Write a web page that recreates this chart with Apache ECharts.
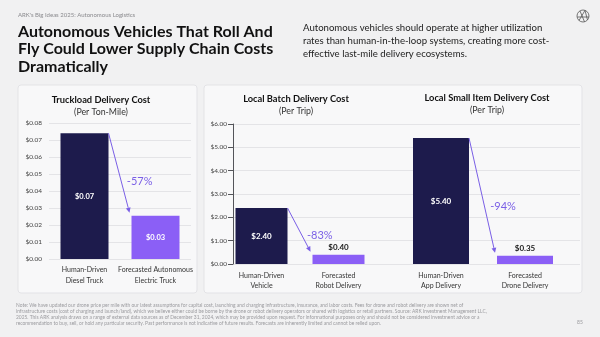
<!DOCTYPE html>
<html>
<head>
<meta charset="utf-8">
<script src="https://cdn.jsdelivr.net/npm/echarts@6/dist/echarts.min.js"></script>
<style>
  html, body { margin: 0; padding: 0; background: #f1f1f2; }
  #chart { width: 600px; height: 337px; }
</style>
</head>
<body>
<div id="chart"></div>
<script>
// Truckload delivery cost, dollars per ton-mile
const truckCategories = ['Human-Driven\nDiesel Truck', 'Forecasted Autonomous\nElectric Truck'];
const truckCost = [0.074, 0.0255];
const truckAxis = { min: 0, max: 0.08, interval: 0.01 };

// Local batch delivery cost, dollars per trip
const batchCategories = ['Human-Driven\nVehicle', 'Forecasted\nRobot Delivery'];
const batchCost = [2.40, 0.40];

// Local small item delivery cost, dollars per trip
const smallCategories = ['Human-Driven\nApp Delivery', 'Forecasted\nDrone Delivery'];
const smallCost = [5.40, 0.35];
const tripAxis = { min: 0, max: 6, interval: 1 };

const reductions = ['-57%', '-83%', '-94%'];

const NAVY = '#1d1b4c';
const PURPLE = '#8b5ff6';
const ARROW = '#7a5fe6';
const FONT = 'Lato, "Open Sans", sans-serif';

const footnote = [
  'Note: We have updated our drone price per mile with our latest assumptions for capital cost, launching and charging infrastructure, insurance, and labor costs. Fees for drone and robot delivery are shown net of',
  'infrastructure costs (cost of charging and launch/land), which we believe either could be borne by the drone or robot delivery operators or shared with logistics or retail partners. Source: ARK Investment Management LLC,',
  '2025. This ARK analysis draws on a range of external data sources as of December 31, 2024, which may be provided upon request. For informational purposes only and should not be considered investment advice or a',
  'recommendation to buy, sell, or hold any particular security. Past performance is not indicative of future results. Forecasts are inherently limited and cannot be relied upon.'
].join('\n');

const chart = echarts.init(document.getElementById('chart'), null, { renderer: 'canvas' });

function barData(values, colors, insideFlags) {
  return values.map((v, i) => ({
    value: v,
    itemStyle: { color: colors[i] },
    label: insideFlags[i]
      ? { show: true, position: 'inside', color: '#ffffff' }
      : { show: true, position: 'top', color: '#1a1a1a', distance: 3 }
  }));
}

function moneyLabel(digits) {
  return p => '$' + Number(p.value).toFixed(digits);
}

// Arrow from the top-right of the first bar to the top-left of the second bar
function arrowRenderer(values, barW, text) {
  return function (params, api) {
    const p0 = api.coord([0, values[0]]);
    const p1 = api.coord([1, values[1]]);
    const x0 = p0[0] + barW / 2, y0 = p0[1];
    const x1 = p1[0] - barW / 2 - 2, y1 = p1[1] - 3;
    const dx = x1 - x0, dy = y1 - y0;
    const len = Math.sqrt(dx * dx + dy * dy);
    const ux = dx / len, uy = dy / len;
    const nx = -uy, ny = ux;
    const hl = 5, hw = 2.4;
    const bx = x1 - ux * hl, by = y1 - uy * hl;
    const t = 0.58;
    return {
      type: 'group',
      children: [
        { type: 'line', shape: { x1: x0, y1: y0, x2: bx, y2: by },
          style: { stroke: ARROW, lineWidth: 1 } },
        { type: 'polygon', shape: { points: [[x1, y1], [bx + nx * hw, by + ny * hw], [bx - nx * hw, by - ny * hw]] },
          style: { fill: ARROW } },
        { type: 'text', x: x0 + dx * t + 19, y: y0 + dy * t + 2,
          style: { text: text, fill: ARROW, font: '400 11px ' + FONT, align: 'center', verticalAlign: 'middle' } }
      ]
    };
  };
}

const catAxisLabel = {
  color: '#333333', fontSize: 7, fontFamily: FONT, lineHeight: 10, margin: 7, interval: 0
};

const option = {
  animation: false,
  textStyle: { fontFamily: FONT },
  graphic: [
    // panels
    { type: 'rect', shape: { x: 18, y: 85, width: 179, height: 208, r: 3 }, z: -10,
      style: { fill: '#f8f8f9', stroke: '#e3e3e6', lineWidth: 1 } },
    { type: 'rect', shape: { x: 204, y: 85, width: 378, height: 208, r: 3 }, z: -10,
      style: { fill: '#f8f8f9', stroke: '#e3e3e6', lineWidth: 1 } },
    // header
    { type: 'text', x: 18, y: 12, style: { text: "ARK's Big Ideas 2025: Autonomous Logistics", fill: '#8a8a8e', font: '400 6px ' + FONT } },
    { type: 'text', x: 18, y: 23, style: { text: 'Autonomous Vehicles That Roll And\nFly Could Lower Supply Chain Costs\nDramatically',
        fill: '#111111', font: '700 16px ' + FONT, lineHeight: 17.5 } },
    { type: 'text', x: 303, y: 22, style: { text: 'Autonomous vehicles should operate at higher utilization\nrates than human-in-the-loop systems, creating more cost-\neffective last-mile delivery ecosystems.',
        fill: '#222222', font: '400 9.6px ' + FONT, lineHeight: 12.8 } },
    // logo mark
    { type: 'group', x: 583, y: 16, children: [
      { type: 'circle', shape: { cx: 0, cy: 0, r: 6 }, style: { fill: 'none', stroke: '#555', lineWidth: 0.8 } },
      { type: 'line', shape: { x1: -4, y1: 4.5, x2: 2, y2: -5.6 }, style: { stroke: '#555', lineWidth: 0.8 } },
      { type: 'line', shape: { x1: 2, y1: -5.6, x2: 4.5, y2: 4 }, style: { stroke: '#555', lineWidth: 0.8 } },
      { type: 'line', shape: { x1: -5.6, y1: 1, x2: 5.8, y2: 1 }, style: { stroke: '#555', lineWidth: 0.8 } },
      { type: 'line', shape: { x1: -3, y1: -5, x2: 1.5, y2: 5.8 }, style: { stroke: '#555', lineWidth: 0.8 } }
    ] },
    // chart titles
    { type: 'text', x: 101, y: 100, style: { text: 'Truckload Delivery Cost', fill: '#111', font: '700 9.3px ' + FONT, align: 'center', verticalAlign: 'middle' } },
    { type: 'text', x: 101, y: 112, style: { text: '(Per Ton-Mile)', fill: '#333', font: '400 8.8px ' + FONT, align: 'center', verticalAlign: 'middle' } },
    { type: 'text', x: 296, y: 99, style: { text: 'Local Batch Delivery Cost', fill: '#111', font: '700 9.3px ' + FONT, align: 'center', verticalAlign: 'middle' } },
    { type: 'text', x: 296, y: 111, style: { text: '(Per Trip)', fill: '#333', font: '400 8.8px ' + FONT, align: 'center', verticalAlign: 'middle' } },
    { type: 'text', x: 487, y: 98, style: { text: 'Local Small Item Delivery Cost', fill: '#111', font: '700 9.3px ' + FONT, align: 'center', verticalAlign: 'middle' } },
    { type: 'text', x: 487, y: 110, style: { text: '(Per Trip)', fill: '#333', font: '400 8.8px ' + FONT, align: 'center', verticalAlign: 'middle' } },
    // footnote and page number
    { type: 'text', x: 16, y: 302, style: { text: footnote, fill: '#9a9a9e', font: '400 4.9px ' + FONT, lineHeight: 6 } },
    { type: 'text', x: 577, y: 320, style: { text: '85', fill: '#9a9a9e', font: '400 5px ' + FONT } }
  ],
  grid: [
    { left: 49, width: 142, top: 123, height: 136 },
    { left: 233, width: 347, top: 124, height: 140 },
    { left: 223, width: 154, top: 124, height: 140 },
    { left: 399, width: 168, top: 124, height: 140 }
  ],
  xAxis: [
    { gridIndex: 0, type: 'category', data: truckCategories,
      axisLine: { show: false }, axisTick: { show: false }, axisLabel: Object.assign({}, catAxisLabel, { margin: 5, lineHeight: 11 }) },
    { gridIndex: 1, type: 'value', show: false, min: 0, max: 1, splitLine: { show: false } },
    { gridIndex: 2, type: 'category', data: batchCategories,
      axisLine: { show: false }, axisTick: { show: false }, axisLabel: catAxisLabel },
    { gridIndex: 3, type: 'category', data: smallCategories,
      axisLine: { show: false }, axisTick: { show: false }, axisLabel: catAxisLabel }
  ],
  yAxis: [
    { gridIndex: 0, type: 'value', min: truckAxis.min, max: truckAxis.max, interval: truckAxis.interval,
      axisLabel: { formatter: v => '$' + v.toFixed(2), color: '#444', fontSize: 6.5, fontFamily: FONT, margin: 7 },
      splitLine: { lineStyle: { color: '#e4e4e7', width: 1 } } },
    { gridIndex: 1, type: 'value', min: tripAxis.min, max: tripAxis.max, interval: tripAxis.interval,
      axisLabel: { formatter: v => '$' + v.toFixed(2), color: '#444', fontSize: 6.5, fontFamily: FONT, margin: 6 },
      splitLine: { lineStyle: { color: '#e4e4e7', width: 1 } } },
    { gridIndex: 2, type: 'value', min: tripAxis.min, max: tripAxis.max, show: false, splitLine: { show: false } },
    { gridIndex: 3, type: 'value', min: tripAxis.min, max: tripAxis.max, show: false, splitLine: { show: false } }
  ],
  series: [
    { type: 'bar', xAxisIndex: 0, yAxisIndex: 0, barWidth: 48,
      data: barData(truckCost, [NAVY, PURPLE], [true, true]),
      label: { formatter: moneyLabel(2), fontSize: 7.5, fontWeight: 700, fontFamily: FONT } },
    { type: 'bar', xAxisIndex: 2, yAxisIndex: 2, barWidth: 52,
      data: barData(batchCost, [NAVY, PURPLE], [true, false]),
      label: { formatter: moneyLabel(2), fontSize: 8, fontWeight: 700, fontFamily: FONT } },
    { type: 'bar', xAxisIndex: 3, yAxisIndex: 3, barWidth: 56,
      data: barData(smallCost, [NAVY, PURPLE], [true, false]),
      label: { formatter: moneyLabel(2), fontSize: 8, fontWeight: 700, fontFamily: FONT } },
    { type: 'custom', xAxisIndex: 0, yAxisIndex: 0, clip: false, z: 5, data: [[0, 0]],
      renderItem: arrowRenderer(truckCost, 48, reductions[0]) },
    { type: 'custom', xAxisIndex: 2, yAxisIndex: 2, clip: false, z: 5, data: [[0, 0]],
      renderItem: arrowRenderer(batchCost, 52, reductions[1]) },
    { type: 'custom', xAxisIndex: 3, yAxisIndex: 3, clip: false, z: 5, data: [[0, 0]],
      renderItem: arrowRenderer(smallCost, 56, reductions[2]) }
  ]
};

chart.setOption(option);
</script>
</body>
</html>
